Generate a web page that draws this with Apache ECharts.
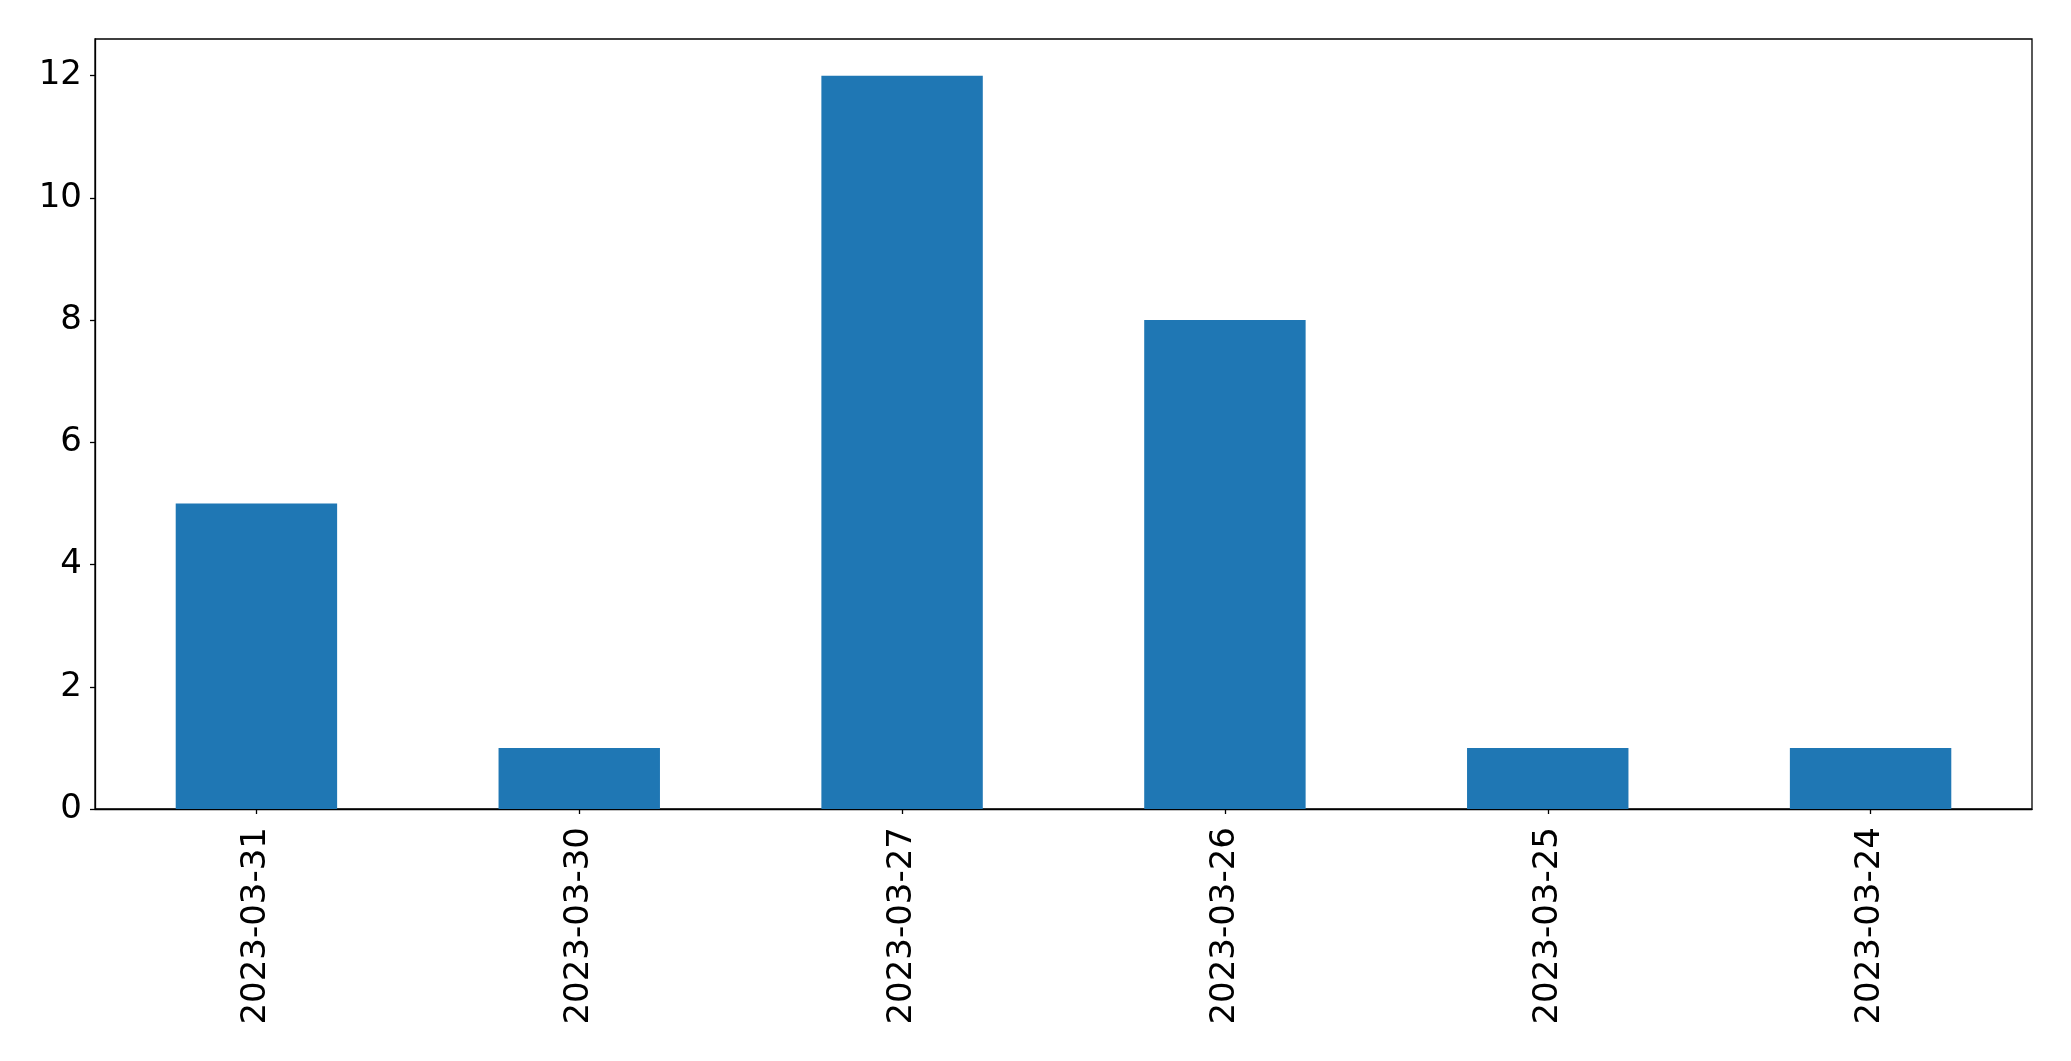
<!DOCTYPE html>
<html>
<head>
<meta charset="utf-8">
<script src="https://cdn.jsdelivr.net/npm/echarts@6/dist/echarts.min.js"></script>
<style>
html,body{margin:0;padding:0;background:#fff;}
#chart{width:2071px;height:1061px;}
</style>
</head>
<body>
<div id="chart"></div>
<script>
const categories = ['2023-03-31','2023-03-30','2023-03-27','2023-03-26','2023-03-25','2023-03-24'];
const counts = [5, 1, 12, 8, 1, 1];
const yTicks = [0, 2, 4, 6, 8, 10, 12];
const yMax = 12.6;

const chart = echarts.init(document.getElementById('chart'), null, {renderer: 'canvas'});
const font = 'DejaVu Sans';
chart.setOption({
  animation: false,
  backgroundColor: '#ffffff',
  grid: {
    left: 95, right: 39, top: 39, bottom: 252,
    show: true, borderColor: '#000000', borderWidth: 1.3, backgroundColor: 'transparent'
  },
  xAxis: {
    type: 'category',
    data: categories,
    boundaryGap: true,
    axisLine: {show: true, lineStyle: {color: '#000', width: 1.3}},
    axisTick: {show: true, alignWithLabel: true, length: 5, lineStyle: {color: '#000', width: 1.3}},
    axisLabel: {rotate: 90, margin: 18, color: '#000', fontFamily: font, fontSize: 34, interval: 0},
    splitLine: {show: false}
  },
  yAxis: {
    type: 'value',
    min: 0,
    max: yMax,
    axisLine: {show: true, lineStyle: {color: '#000', width: 1.3}},
    axisTick: {show: true, length: 5, customValues: yTicks, lineStyle: {color: '#000', width: 1.3}},
    axisLabel: {margin: 13, color: '#000', fontFamily: font, fontSize: 34, customValues: yTicks},
    splitLine: {show: false}
  },
  series: [{
    type: 'bar',
    data: counts,
    barWidth: '50%',
    itemStyle: {color: '#1f77b4'}
  }]
});
</script>
</body>
</html>
